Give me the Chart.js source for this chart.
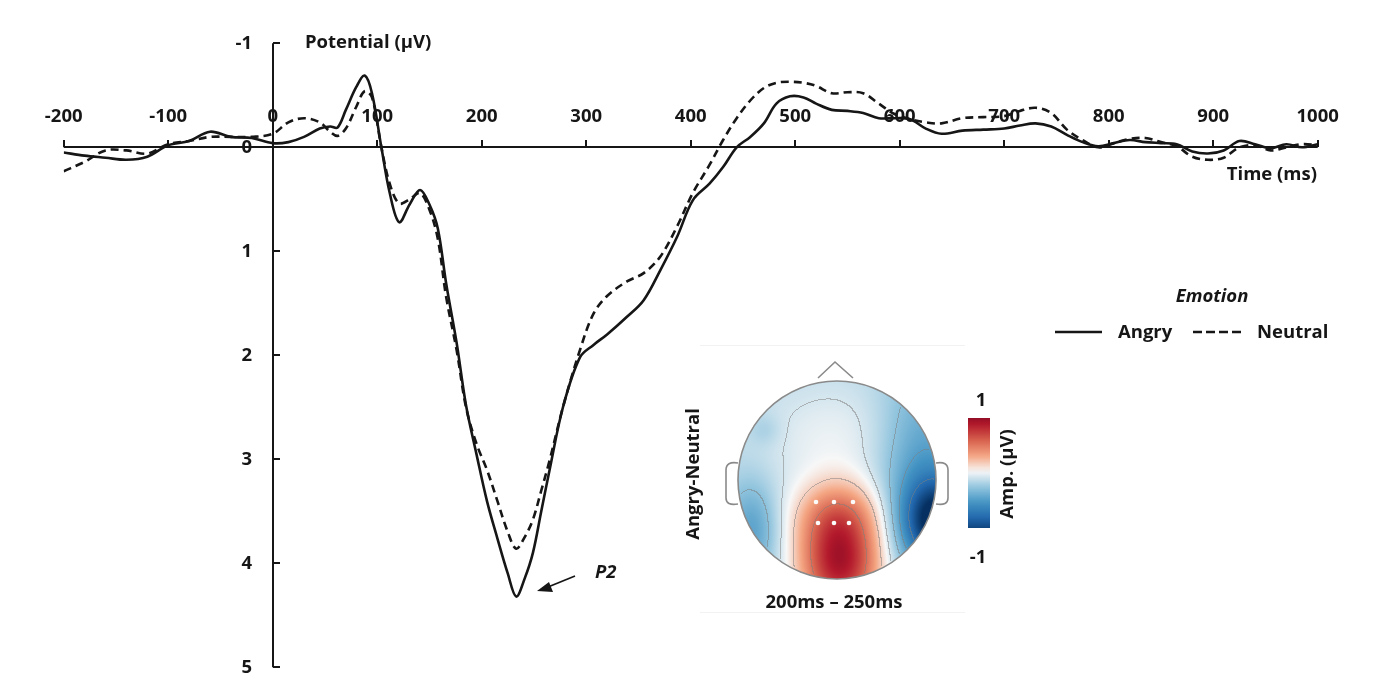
<!DOCTYPE html>
<html><head><meta charset="utf-8">
<script src="https://cdn.jsdelivr.net/npm/chart.js@4.4.0/dist/chart.umd.min.js"></script>
<style>html,body{margin:0;padding:0;background:#fff;}canvas{display:block;}</style>
</head><body>
<canvas id="c" width="1379" height="682"></canvas>
<script>
// ---- data (time in ms, potential in µV) ----
const times = [-200,-180,-160,-140,-120,-100,-80,-60,-40,-20,0,15,30,45,55,62,70,80,88,95,104,112,121,131,141,150,158,166,176,185,195,205,215,225,233,241,249,257,265,278,294,307,320,339,355,371,387,402,418,431,444,457,470,482,495,508,520,535,550,565,580,595,610,625,640,660,680,700,715,730,745,760,775,790,805,820,835,850,865,880,895,910,925,940,955,970,985,1000];
const angry = [0.05,0.08,0.10,0.12,0.09,-0.02,-0.06,-0.15,-0.10,-0.09,-0.04,-0.05,-0.10,-0.18,-0.20,-0.19,-0.36,-0.58,-0.69,-0.52,0.0,0.44,0.72,0.55,0.41,0.55,0.78,1.31,1.88,2.48,2.95,3.40,3.76,4.10,4.32,4.15,3.90,3.50,3.10,2.49,2.02,1.90,1.80,1.63,1.47,1.18,0.86,0.51,0.35,0.19,0.0,-0.10,-0.23,-0.42,-0.49,-0.48,-0.42,-0.36,-0.35,-0.33,-0.28,-0.28,-0.27,-0.18,-0.13,-0.16,-0.17,-0.18,-0.21,-0.23,-0.20,-0.12,-0.05,-0.01,-0.04,-0.07,-0.05,-0.04,-0.03,0.04,0.06,0.03,-0.06,-0.03,0.01,-0.03,0.0,-0.03];
const neutral = [0.23,0.14,0.03,0.03,0.06,-0.03,-0.06,-0.10,-0.10,-0.10,-0.13,-0.24,-0.28,-0.24,-0.15,-0.11,-0.18,-0.39,-0.54,-0.48,0.0,0.35,0.54,0.50,0.44,0.60,0.88,1.44,1.95,2.50,2.85,3.10,3.40,3.70,3.86,3.75,3.58,3.30,3.01,2.49,1.95,1.60,1.43,1.29,1.21,1.05,0.76,0.44,0.17,-0.07,-0.28,-0.45,-0.57,-0.62,-0.63,-0.62,-0.59,-0.52,-0.53,-0.52,-0.42,-0.32,-0.27,-0.24,-0.23,-0.28,-0.29,-0.30,-0.35,-0.38,-0.33,-0.17,-0.07,0.0,-0.04,-0.08,-0.09,-0.05,-0.01,0.09,0.12,0.10,0.0,-0.02,0.03,0.0,-0.03,-0.02];
const seriesNames = ['Angry','Neutral'];
const xTickValues = [-200,-100,0,100,200,300,400,500,600,700,800,900,1000];
const yTickValues = [-1,0,1,2,3,4,5];
const legendTitle = 'Emotion';
const yTitle = 'Potential (µV)';
const xTitle = 'Time (ms)';

const FONT = '"Open Sans", Lato, sans-serif';
const FW = 'bold 18.5px ';
const INK = '#161616';

// ---- RdBu (reversed) colormap for the topography inset ----
const cmapStops = [[-1,[5,48,97]],[-0.75,[33,102,172]],[-0.5,[67,147,195]],[-0.25,[146,197,222]],[0,[247,247,247]],[0.25,[244,165,130]],[0.5,[214,96,77]],[0.75,[178,24,43]],[1,[103,0,31]]];
function cmap(v){
  v = Math.max(-1, Math.min(1, v));
  for (let i=0;i<cmapStops.length-1;i++){
    const [a,ca]=cmapStops[i],[b,cb]=cmapStops[i+1];
    if (v<=b){const f=(v-a)/(b-a);return ca.map((c,k)=>Math.round(c+(cb[k]-c)*f));}
  }
  return cmapStops[cmapStops.length-1][1];
}
function g(x,y,x0,y0,sx,sy){return Math.exp(-((x-x0)*(x-x0)/(2*sx*sx)+(y-y0)*(y-y0)/(2*sy*sy)));}
function field(x,y){
  return -0.15
    + 0.88*g(x,y,840,566,29,35)
    + 0.42*g(x,y,838,515,31,26)
    + 0.12*g(x,y,834,440,52,40)
    - 0.80*g(x,y,938,522,24,30)
    - 0.30*g(x,y,922,470,30,70)
    - 0.28*g(x,y,752,530,18,34)
    - 0.08*g(x,y,765,430,11,11);
}
const TOPO = {cx:837, cy:480, r:99};
function makeTopo(){
  const {cx,cy,r}=TOPO, S=2*r+4, ox=cx-r-2, oy=cy-r-2;
  const cv=document.createElement('canvas'); cv.width=S; cv.height=S;
  const c=cv.getContext('2d'); const img=c.createImageData(S,S);
  const vals=new Float32Array(S*S);
  for(let j=0;j<S;j++)for(let i=0;i<S;i++)vals[j*S+i]=field(ox+i+0.5,oy+j+0.5);
  const levels=[-0.7,-0.45,-0.27,-0.08,0.12,0.45];
  for(let j=0;j<S;j++)for(let i=0;i<S;i++){
    const px=ox+i+0.5, py=oy+j+0.5;
    const d=Math.hypot(px-cx,py-cy);
    const a=Math.max(0,Math.min(1,r-d+0.5));
    if(a<=0)continue;
    const v=vals[j*S+i];
    let col=cmap(v);
    let contour=false;
    if(i<S-1&&j<S-1){
      const vr=vals[j*S+i+1], vd=vals[(j+1)*S+i];
      for(const L of levels){ if((v-L)*(vr-L)<0||(v-L)*(vd-L)<0){contour=true;break;} }
    }
    if(contour&&d<r-2){col=col.map(c=>Math.round(c*0.5+125*0.5));}
    const k=(j*S+i)*4; img.data[k]=col[0];img.data[k+1]=col[1];img.data[k+2]=col[2];img.data[k+3]=Math.round(a*255);
  }
  c.putImageData(img,0,0);
  return {cv,ox,oy};
}
let topoImg=null;

const axesPlugin = {
  id:'erpAxes',
  beforeDatasetsDraw(chart){
    const {ctx, scales:{x,y}} = chart;
    const x0=Math.round(x.getPixelForValue(0)), y0=Math.round(y.getPixelForValue(0));
    ctx.save();
    ctx.strokeStyle=INK; ctx.lineWidth=2; ctx.lineCap='butt';
    const xl=x.getPixelForValue(xTickValues[0]), xr=x.getPixelForValue(xTickValues[xTickValues.length-1]);
    ctx.beginPath(); ctx.moveTo(xl,y0); ctx.lineTo(xr,y0); ctx.stroke();
    xTickValues.forEach(t=>{const px=Math.round(x.getPixelForValue(t)); ctx.beginPath(); ctx.moveTo(px,y0); ctx.lineTo(px,y0-7); ctx.stroke();});
    const yt=y.getPixelForValue(yTickValues[0]), yb=y.getPixelForValue(yTickValues[yTickValues.length-1]);
    ctx.beginPath(); ctx.moveTo(x0,yt); ctx.lineTo(x0,yb); ctx.stroke();
    yTickValues.forEach(v=>{const py=Math.round(y.getPixelForValue(v)); ctx.beginPath(); ctx.moveTo(x0,py); ctx.lineTo(x0+7,py); ctx.stroke();});
    ctx.fillStyle=INK; ctx.font=FW+FONT; ctx.textBaseline='middle';
    ctx.textAlign='center';
    xTickValues.forEach(t=>ctx.fillText(String(t), x.getPixelForValue(t), y0-30));
    ctx.textAlign='right';
    yTickValues.forEach(v=>ctx.fillText(String(v), x0-21, y.getPixelForValue(v)));
    ctx.textAlign='left'; ctx.fillText(yTitle, 305, 43);
    ctx.textAlign='right'; ctx.fillText(xTitle, 1317, 175);
    ctx.restore();
  },
  afterDraw(chart){
    const {ctx}=chart;
    ctx.save();
    ctx.fillStyle=INK; ctx.strokeStyle=INK;
    ctx.font='italic '+FW+FONT; ctx.textBaseline='middle'; ctx.textAlign='left';
    ctx.fillText('P2', 595, 573);
    ctx.lineWidth=1.8;
    ctx.beginPath(); ctx.moveTo(575,576); ctx.lineTo(548,587); ctx.stroke();
    ctx.beginPath(); ctx.moveTo(537,591); ctx.lineTo(549,582); ctx.lineTo(553,592); ctx.closePath(); ctx.fill();
    const ds=chart.data.datasets;
    ctx.textAlign='center'; ctx.fillText(legendTitle, 1212, 297);
    ctx.font=FW+FONT; ctx.textAlign='left';
    ctx.lineWidth=2.5;
    ctx.setLineDash([]); ctx.beginPath(); ctx.moveTo(1055,332); ctx.lineTo(1102,332); ctx.stroke();
    ctx.fillText(ds[0].label, 1118, 333);
    ctx.setLineDash([9,4]); ctx.beginPath(); ctx.moveTo(1193,332); ctx.lineTo(1241,332); ctx.stroke();
    ctx.setLineDash([]);
    ctx.fillText(ds[1].label, 1257, 333);
    // topography inset
    ctx.strokeStyle='rgba(0,0,0,0.05)'; ctx.lineWidth=1;
    ctx.beginPath(); ctx.moveTo(700,345.5); ctx.lineTo(965,345.5); ctx.moveTo(700,612.5); ctx.lineTo(965,612.5); ctx.stroke();
    if(!topoImg) topoImg=makeTopo();
    const {cx,cy,r}=TOPO;
    ctx.strokeStyle='#8a8a8a'; ctx.lineWidth=1.6;
    ctx.beginPath(); ctx.moveTo(818,378); ctx.lineTo(835,362); ctx.lineTo(853,378); ctx.stroke();
    function ear(x1){const xe=x1>cx?936:738; ctx.beginPath(); ctx.moveTo(xe,463); ctx.quadraticCurveTo(x1,461,x1,470); ctx.lineTo(x1,498); ctx.quadraticCurveTo(x1,506,xe,504); ctx.stroke();}
    ear(726); ear(948);
    ctx.drawImage(topoImg.cv, topoImg.ox, topoImg.oy);
    ctx.beginPath(); ctx.arc(cx,cy,r,0,Math.PI*2); ctx.stroke();
    ctx.fillStyle='#fbfbfb';
    [[816,502],[834,502],[853,502],[818,523],[834,523],[849,523]].forEach(([ex,ey])=>{ctx.beginPath();ctx.arc(ex,ey,2.3,0,Math.PI*2);ctx.fill();});
    const grad=ctx.createLinearGradient(0,418,0,528);
    for(let k=0;k<=20;k++){const v=0.85-1.75*k/20; const c=cmap(v); grad.addColorStop(k/20,'rgb('+c.join(',')+')');}
    ctx.fillStyle=grad; ctx.fillRect(968,418,22,110);
    ctx.fillStyle=INK; ctx.font=FW+FONT; ctx.textAlign='center'; ctx.textBaseline='middle';
    ctx.fillText('1', 981, 401);
    ctx.fillText('-1', 978, 558);
    ctx.fillText('200ms – 250ms', 834, 603);
    ctx.save(); ctx.translate(694,474); ctx.rotate(-Math.PI/2); ctx.fillText('Angry-Neutral',0,0); ctx.restore();
    ctx.save(); ctx.translate(1008,474); ctx.rotate(-Math.PI/2); ctx.fillText('Amp. (µV)',0,0); ctx.restore();
    ctx.restore();
  }
};

new Chart(document.getElementById('c'), {
  type:'line',
  data:{datasets:[
    {label:seriesNames[0], data:times.map((t,i)=>({x:t,y:angry[i]})), borderColor:INK, borderWidth:2.6, pointRadius:0, tension:0.35, fill:false},
    {label:seriesNames[1], data:times.map((t,i)=>({x:t,y:neutral[i]})), borderColor:INK, borderWidth:2.6, borderDash:[8,5], pointRadius:0, tension:0.35, fill:false}
  ]},
  options:{
    responsive:false, animation:false, devicePixelRatio:1,
    layout:{padding:{left:63.7, right:61.3, top:43.3, bottom:14.7}},
    plugins:{legend:{display:false}, tooltip:{enabled:false}},
    scales:{
      x:{type:'linear', min:-200, max:1000, display:false},
      y:{type:'linear', min:-1, max:5, reverse:true, display:false}
    }
  },
  plugins:[axesPlugin]
});
</script>
</body></html>
